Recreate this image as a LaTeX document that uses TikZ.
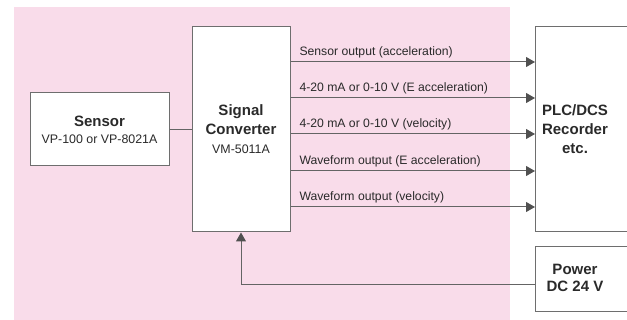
\documentclass[tikz,border=0pt]{standalone}
\usepackage{fontspec}
\setmainfont{Liberation Sans}
\usetikzlibrary{arrows.meta, calc}
\definecolor{panelfill}{HTML}{F9DCEA}
\definecolor{boxborder}{HTML}{6E6E6E}
\definecolor{wiregray}{HTML}{646464}
\definecolor{tipgray}{HTML}{505050}
\definecolor{textgray}{HTML}{2A2A2A}
\newcommand{\titlefont}{\bfseries\fontsize{15}{19}\selectfont}
\newcommand{\subfont}{\mdseries\fontsize{12.4}{15}\selectfont}
\tikzset{
    box/.style={
        draw=boxborder, fill=white, line width=1pt,
        align=center, inner sep=0pt, text=textgray,
    },
    boxtext/.style={
        align=center, inner sep=0pt, text=textgray,
        font=\titlefont,
    },
    outlabel/.style={
        anchor=base west, inner sep=0pt, text=textgray,
        font=\fontsize{12.2}{14}\selectfont,
    },
    wire/.style={
        line width=1pt, color=wiregray,
    },
    arrow/.style={
        -{Triangle[length=9pt, width=10pt, color=tipgray]},
        line width=1pt, color=wiregray,
    },
}

\begin{document}
\begin{tikzpicture}[x=1pt, y=-1pt]
\useasboundingbox (0,0) rectangle (627,320);
\clip (0,0) rectangle (627,320);

% ── Background panel ─────────────────────────────────────────
\fill[panelfill] (14,7) rectangle (510,320);

% ── Boxes ────────────────────────────────────────────────────
\node[box, minimum width=139pt, minimum height=73pt] (sensor) at (99.5,129.5)
    {{\titlefont Sensor}\\[5pt]{\subfont VP-100 or VP-8021A}};
\node[box, font=\titlefont, minimum width=98pt, minimum height=205pt] (conv) at (241,129.5)
    {Signal\\Converter\\{\subfont VM-5011A}};

% PLC and power boxes run past the right edge
\node[box, anchor=west, minimum width=110pt, minimum height=205pt] (plc) at (535,129.5) {};
\node[boxtext] (plclabel) at ([xshift=40pt]plc.west) {PLC/DCS\\Recorder\\etc.};
\node[box, anchor=north west, minimum width=110pt, minimum height=65pt] (power) at (535,246) {};
\node[boxtext, font=\bfseries\fontsize{15}{17}\selectfont] (powerlabel) at ([xshift=40pt, yshift=1.5pt]power.west) {Power\\DC 24 V};

% ── Connectors ───────────────────────────────────────────────
\draw[wire] (sensor.east) -- (conv.west);
\foreach \y/\txt in {62/Sensor output (acceleration),
                     98/4-20 mA or 0-10 V (E acceleration),
                     134/4-20 mA or 0-10 V (velocity),
                     171/Waveform output (E acceleration),
                     207/Waveform output (velocity)}
    \draw[arrow] (conv.east |- 0,\y) node[outlabel, xshift=8.5pt, yshift=6pt] {\txt} -- (plc.west |- 0,\y);
\draw[arrow] ([yshift=-6pt]power.west) -| (conv.south);

\end{tikzpicture}
\end{document}
